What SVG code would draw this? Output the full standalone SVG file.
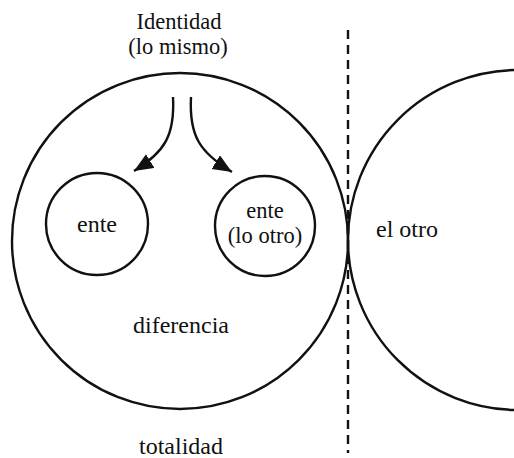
<svg xmlns="http://www.w3.org/2000/svg" width="514" height="458" viewBox="0 0 514 458">
<style>
.c{fill:none;stroke:#111;stroke-width:2.4}
.t{font-family:"Liberation Serif","Times New Roman",serif;font-size:24px;fill:#111;text-anchor:middle}
.s{font-size:22.5px}
.a{fill:none;stroke:#111;stroke-width:2.4}
</style>
<defs>
<marker id="ah" markerUnits="userSpaceOnUse" markerWidth="22" markerHeight="18" refX="19" refY="8" orient="auto" viewBox="0 0 22 18">
<path d="M0,0 L19,8 L0,16 Z" fill="#111"/>
</marker>
</defs>
<rect width="514" height="458" fill="#fff"/>
<g id="totalidad">
<circle class="c" cx="180" cy="241" r="168"/>
<text class="t" x="181" y="454">totalidad</text>
<text class="t" x="181" y="333">diferencia</text>
</g>
<g id="identidad">
<text class="t s" x="179" y="29">Identidad</text>
<text class="t s" x="178" y="54">(lo mismo)</text>
</g>
<g id="ente">
<circle class="c" cx="97" cy="224" r="51"/>
<text class="t" x="97" y="232">ente</text>
</g>
<g id="ente-otro">
<circle class="c" cx="265" cy="226" r="50"/>
<text class="t s" x="265" y="218">ente</text>
<text class="t s" x="265" y="243">(lo otro)</text>
</g>
<g id="el-otro">
<circle class="c" cx="518" cy="240" r="170"/>
<text class="t" x="407" y="237">el otro</text>
</g>
<g id="connectors">
<line x1="348" y1="30" x2="348" y2="453" stroke="#111" stroke-width="2.4" stroke-dasharray="9 6"/>
<path class="a" d="M173,97 C175,135 165,152 134,171" marker-end="url(#ah)"/>
<path class="a" d="M191,97 C189,135 199,152 232,172" marker-end="url(#ah)"/>
</g>
</svg>
